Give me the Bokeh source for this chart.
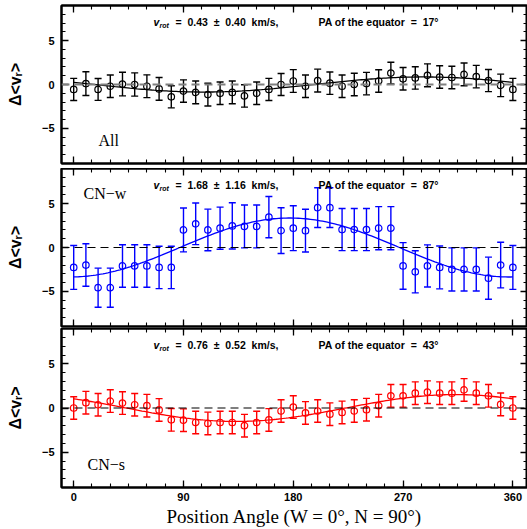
import numpy as np
from bokeh.plotting import figure
from bokeh.models import (Range1d, FixedTicker, LinearAxis, Span, Whisker,
                          ColumnDataSource, TeeHead, Label, CustomLabelingPolicy)
from bokeh.layouts import column
from bokeh.embed import file_html
from bokeh.resources import INLINE

# ---------------- data ----------------
pa = list(range(0, 361, 10))

all_dv = [-0.56, 0.10, -0.56, -0.20, 0.05, 0.00, -0.20, -0.50, -1.40, -0.75,
          -0.90, -1.15, -1.00, -0.90, -1.30, -1.00, -0.56, 0.00, 0.40, -0.20,
          0.45, 0.15, -0.20, 0.00, 0.10, 0.40, 1.30, 0.65, 0.75, 1.05,
          0.85, 0.80, 1.15, 0.90, 0.45, -0.10, -0.56]
all_err = [1.26, 1.35, 1.25, 1.28, 1.35, 1.32, 1.30, 1.30, 1.26, 1.28,
           1.30, 1.30, 1.28, 1.30, 1.28, 1.28, 1.26, 1.26, 1.30, 1.28,
           1.30, 1.28, 1.28, 1.28, 1.28, 1.28, 1.24, 1.28, 1.28, 1.30,
           1.28, 1.28, 1.30, 1.28, 1.26, 1.28, 1.26]

cnw_dv = [-2.27, -2.00, -4.58, -4.58, -2.10, -2.10, -2.10, -2.27, -2.27, 2.00,
          2.70, 2.00, 2.20, 2.46, 2.40, 2.40, 3.46, 1.92, 2.20, 1.92,
          4.54, 4.54, 2.04, 2.04, 2.04, 2.20, 2.20, -2.10, -2.77, -2.10,
          -2.27, -2.50, -2.50, -2.50, -3.50, -2.00, -2.27]
cnw_err = [2.50, 2.42, 2.23, 2.23, 2.42, 2.42, 2.42, 2.42, 2.42, 2.50,
           2.37, 2.37, 2.40, 2.63, 2.44, 2.44, 2.35, 2.60, 2.56, 2.44,
           2.27, 2.27, 2.40, 2.40, 2.40, 2.46, 2.46, 2.65, 2.40, 2.40,
           2.44, 2.46, 2.46, 2.46, 2.40, 2.60, 2.50]

cns_dv = [0.00, 0.60, 0.37, 0.78, 0.56, 0.37, 0.26, -0.22, -1.34, -1.38,
          -1.64, -1.75, -1.64, -1.64, -2.00, -1.64, -1.35, -0.34, 0.10, -0.56,
          -0.34, -0.70, -0.50, -0.34, -0.19, 0.26, 1.38, 1.38, 1.68, 1.79,
          1.68, 1.68, 2.05, 1.68, 1.38, 0.41, 0.00]
cns_err = [1.28] * 37

# fitted sine curves: amplitude and PA of the equator
fit_amp = [-0.86, 3.36, -1.52]
fit_pa_eq = [17, 87, 43]

S2 = "\u00a0 "  # wide spacing (non-collapsing)
vrot_text = ["=" + S2 + "0.43" + S2 + "\u00b1" + S2 + "0.40" + S2 + "km/s,",
             "=" + S2 + "1.68" + S2 + "\u00b1" + S2 + "1.16" + S2 + "km/s,",
             "=" + S2 + "0.76" + S2 + "\u00b1" + S2 + "0.52" + S2 + "km/s,"]
pa_text = ["PA of the equator" + S2 + "=" + S2 + "17\u00b0",
           "PA of the equator" + S2 + "=" + S2 + "87\u00b0",
           "PA of the equator" + S2 + "=" + S2 + "43\u00b0"]
names = ["All", "CN\u2212w", "CN\u2212s"]
colors = ["black", "#0000ff", "#ff0000"]

x_major = [0, 90, 180, 270, 360]
x_minor = list(range(0, 361, 15))
y_major = [-5, 0, 5]
y_minor = list(range(-8, 9))

TICK_FONT = "Liberation Sans"
SERIF = "Liberation Serif"

NO_LABELS = CustomLabelingPolicy(code="""
    for (const i of Array.from(indices)) { indices.unset(i) }
    return indices
""")


def style_axis(ax, ticks, minor, show_labels):
    ax.ticker = FixedTicker(ticks=ticks, minor_ticks=minor)
    ax.major_tick_in = 7
    ax.major_tick_out = 0
    ax.minor_tick_in = 4
    ax.minor_tick_out = 0
    ax.axis_line_width = 2
    ax.axis_line_color = "black"
    ax.major_tick_line_width = 1.3
    ax.minor_tick_line_width = 1.1
    ax.major_tick_line_color = "black"
    ax.minor_tick_line_color = "black"
    if show_labels:
        ax.major_label_text_font = TICK_FONT
        ax.major_label_text_font_style = "bold"
        ax.major_label_text_font_size = "11px"
        ax.major_label_text_color = "black"
    else:
        ax.major_label_text_font_size = "0px"
        ax.major_label_standoff = 0
        ax.major_label_policy = NO_LABELS
        ax.axis_label = None


def make_panel(i, dv, err, height, top, bottom, show_x, name_pos):
    color = colors[i]
    p = figure(width=527, height=height,
               x_range=Range1d(-10, 372), y_range=Range1d(-9, 9),
               output_backend="svg", toolbar_location=None,
               min_border_left=61, min_border_right=0,
               min_border_top=top, min_border_bottom=bottom)
    p.xgrid.visible = False
    p.ygrid.visible = False
    p.outline_line_color = "black"
    p.outline_line_width = 2
    p.background_fill_color = "white"
    p.border_fill_color = "white"

    # axes
    style_axis(p.xaxis[0], x_major, x_minor, show_x)
    style_axis(p.yaxis[0], y_major, y_minor, True)
    if show_x:
        p.xaxis[0].axis_label = "Position Angle (W = 0\u00b0, N = 90\u00b0)"
        p.xaxis[0].axis_label_text_font = SERIF
        p.xaxis[0].axis_label_text_font_style = "normal"
        p.xaxis[0].axis_label_text_font_size = "19px"
        p.xaxis[0].axis_label_text_color = "black"
        p.xaxis[0].axis_label_standoff = 2
        p.xaxis[0].major_label_standoff = 5
    p.yaxis[0].axis_label = "\u0394<v\u1d63>"
    p.yaxis[0].axis_label_text_font = TICK_FONT
    p.yaxis[0].axis_label_text_font_style = "bold"
    p.yaxis[0].axis_label_text_font_size = "16px"
    p.yaxis[0].axis_label_text_color = "black"
    p.yaxis[0].axis_label_standoff = 15
    p.yaxis[0].major_label_standoff = 7

    top_ax = LinearAxis()
    style_axis(top_ax, x_major, x_minor, False)
    p.add_layout(top_ax, "above")
    right_ax = LinearAxis()
    style_axis(right_ax, y_major, y_minor, False)
    p.add_layout(right_ax, "right")

    # zero line
    if i == 0:
        p.add_layout(Span(location=0, dimension="width", line_color="#808080",
                          line_width=2, line_dash="8 5"))
    else:
        p.add_layout(Span(location=0, dimension="width", line_color="black",
                          line_width=1.2, line_dash="8 5"))

    # fit curve
    fx = np.linspace(0, 360, 181)
    fy = fit_amp[i] * np.sin(np.radians(fx - fit_pa_eq[i]))
    p.line(fx, fy, line_color=color, line_width=1.3)

    # data with error bars
    up = [v + e for v, e in zip(dv, err)]
    lo = [v - e for v, e in zip(dv, err)]
    src = ColumnDataSource(dict(x=pa, y=dv, upper=up, lower=lo))
    p.add_layout(Whisker(source=src, base="x", upper="upper", lower="lower",
                         line_color=color, line_width=1.4,
                         upper_head=TeeHead(size=7, line_color=color, line_width=1.4),
                         lower_head=TeeHead(size=7, line_color=color, line_width=1.4)))
    p.scatter("x", "y", source=src, marker="circle", size=6.5,
              fill_color=None, line_color=color, line_width=1.2)

    # annotation texts
    p.add_layout(Label(x=65.4, y=7.1, text="v", text_font=TICK_FONT,
                       text_font_style="bold italic", text_font_size="10.5px",
                       text_baseline="middle", text_color="black"))
    p.add_layout(Label(x=65.4, y=7.1, x_offset=6, y_offset=-3, text="rot",
                       text_font=TICK_FONT, text_font_style="bold italic",
                       text_font_size="7px", text_baseline="middle",
                       text_color="black"))
    p.add_layout(Label(x=65.4, y=7.1, x_offset=22, text=vrot_text[i],
                       text_font=TICK_FONT, text_font_style="bold",
                       text_font_size="10.5px", text_baseline="middle",
                       text_color="black"))
    p.add_layout(Label(x=200.7, y=7.1, text=pa_text[i],
                       text_font=TICK_FONT, text_font_style="bold",
                       text_font_size="10.5px", text_baseline="middle",
                       text_color="black"))
    p.add_layout(Label(x=name_pos[0], y=name_pos[1], text=names[i],
                       text_font=SERIF, text_font_size="16px",
                       text_baseline="middle", text_color="black"))
    return p


p1 = make_panel(0, all_dv, all_err, 168, 5, 5, False, (20.3, -6.4))
p2 = make_panel(1, cnw_dv, cnw_err, 160, 0, 2, False, (8.0, 6.1))
p3 = make_panel(2, cns_dv, cns_err, 201, 0, 41, True, (11.3, -6.36))

layout = column(p1, p2, p3, spacing=0)
open("out.html", "w").write(file_html(layout, INLINE))
